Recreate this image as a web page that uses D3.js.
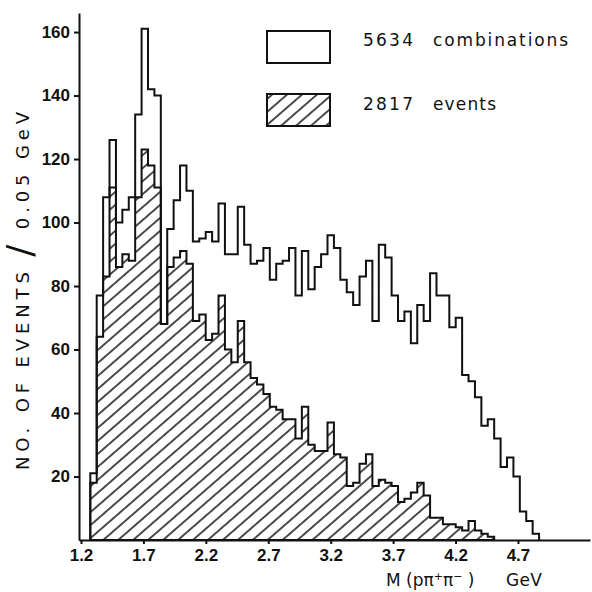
<!DOCTYPE html>
<html><head><meta charset="utf-8">
<script src="https://cdn.jsdelivr.net/npm/d3@7"></script>
<style>body{margin:0;background:#fff}svg{display:block}</style>
</head><body>
<svg id="chart" width="592" height="592"></svg>
<script>
// ---- data ----
const binStart = 1.2745;   // GeV, lower edge of the first drawn bin
const binWidth = 0.05135;  // GeV, bin width as drawn
const combinations = [21,77,108,126,100,104,108,134,161,142,140,68,98,107,118,110,94,95,97,94,
  106,90,90,105,93,87,88,92,82,87,88,92,77,91,79,86,90,96,92,82,
  78,74,83,88,69,93,89,77,69,72,62,74,69,84,77,77,67,70,52,50,
  45,36,38,32,23,26,20,9,6,2];
const events = [18,64,83,111,86,90,88,108,123,118,111,68,86,89,91,87,69,71,63,65,
  77,60,56,69,56,51,49,46,42,41,38,38,32,42,30,28,28,37,27,26,
  17,18,24,27,17,19,18,17,12,13,15,18,14,7,7,5,5,4,3,6,
  3,2,1,0,0,0,0,0,0,0];
const xTicks = [1.2,1.7,2.2,2.7,3.2,3.7,4.2,4.7];
const xTickLabels = ["1.2","1.7","2.2","2.7","3.2","3.7","4.2","4.7"];
const yTicks = [20,40,60,80,100,120,140,160];
const legendCounts = ["5634","2817"];
const legendNames = ["combinations","events"];

// ---- chart ----
const svg = d3.select("#chart");
const x = d3.scaleLinear().domain([1.184, 5.277]).range([79, 590]);
const y = d3.scaleLinear().domain([0, 166]).range([540, 13]);

const defs = svg.append("defs");
const pat = defs.append("pattern").attr("id","hatch")
  .attr("patternUnits","userSpaceOnUse").attr("width",20).attr("height",9.8)
  .attr("patternTransform","rotate(-41)");
pat.append("line").attr("x1",-2).attr("x2",22).attr("y1",4.9).attr("y2",4.9)
  .attr("stroke","#111").attr("stroke-width",1.5);

function stepPoints(vals){
  let last = vals.length-1;
  while(last>0 && vals[last]===0) last--;
  const pts=[[binStart,0]];
  for(let i=0;i<=last;i++){
    const lo=binStart+i*binWidth, hi=lo+binWidth;
    pts.push([lo,vals[i]],[hi,vals[i]]);
  }
  pts.push([binStart+(last+1)*binWidth,0]);
  return pts;
}
const line = d3.line().x(d=>x(d[0])).y(d=>y(d[1]));

// hatched histogram
svg.append("path").attr("d", line(stepPoints(events))+"Z")
  .attr("fill","url(#hatch)").attr("stroke","#111").attr("stroke-width",2)
  .attr("stroke-linejoin","miter");
// open histogram
svg.append("path").attr("d", line(stepPoints(combinations)))
  .attr("fill","none").attr("stroke","#111").attr("stroke-width",2);

// axes
const yAxis = svg.append("g").attr("transform","translate(79,0)")
  .call(d3.axisLeft(y).tickValues(yTicks).tickSize(5).tickSizeOuter(0).tickPadding(4));
yAxis.select(".domain").attr("stroke","#111").attr("stroke-width",2);
yAxis.selectAll(".tick line").attr("stroke","#111").attr("stroke-width",2);
yAxis.selectAll(".tick text").attr("font-family","Liberation Sans, Arial, sans-serif")
  .attr("font-weight","bold").attr("font-size",17).attr("fill","#111");

const xAxis = svg.append("g").attr("transform","translate(0,540)")
  .call(d3.axisBottom(x).tickValues(xTicks).tickFormat((d,i)=>xTickLabels[i]).tickSize(4).tickSizeOuter(0));
xAxis.select(".domain").attr("stroke","#111").attr("stroke-width",2);
xAxis.selectAll(".tick line").attr("stroke","#111").attr("stroke-width",2);
xAxis.selectAll(".tick text").attr("font-family","Liberation Sans, Arial, sans-serif")
  .attr("font-weight","bold").attr("font-size",17).attr("fill","#111")
  .attr("y",21).attr("dy",null);

// axis titles
const yl = svg.append("text").attr("transform","translate(29,291) rotate(-90)")
  .attr("text-anchor","middle").attr("font-family","DejaVu Sans, sans-serif")
  .attr("font-size",18).attr("fill","#111").attr("textLength",358).attr("lengthAdjust","spacing");
yl.append("tspan").text("NO. OF EVENTS ");
yl.append("tspan").attr("font-size",36).attr("dy",3).text("/");
yl.append("tspan").attr("dy",-3).text(" 0.05 GeV");

const xl = svg.append("text").attr("x",386).attr("y",586)
  .attr("font-family","DejaVu Sans, sans-serif").attr("font-size",17).attr("fill","#111");
xl.append("tspan").text("M (pπ");
xl.append("tspan").attr("font-size",11).attr("dy",-6).text("+");
xl.append("tspan").attr("dy",6).text("π");
xl.append("tspan").attr("font-size",11).attr("dy",-6).text("−");
xl.append("tspan").attr("dy",6).text(" )");
svg.append("text").attr("x",506).attr("y",586).attr("font-family","DejaVu Sans, sans-serif")
  .attr("font-size",17).attr("fill","#111").attr("textLength",36).attr("lengthAdjust","spacing").text("GeV");

// legend
const lg = svg.append("g");
const rows = [0,1];
lg.selectAll("rect").data(rows).join("rect")
  .attr("x",267).attr("y",d=>d?94:31).attr("width",63).attr("height",32)
  .attr("fill",d=>d?"url(#hatch)":"none").attr("stroke","#111").attr("stroke-width",2);
lg.selectAll("text.cnt").data(rows).join("text").attr("class","cnt")
  .attr("x",363).attr("y",d=>d?110:46).attr("font-family","DejaVu Sans, sans-serif")
  .attr("font-size",17).attr("fill","#111").attr("textLength",50).attr("lengthAdjust","spacing")
  .text(d=>legendCounts[d]);
lg.selectAll("text.nm").data(rows).join("text").attr("class","nm")
  .attr("x",433).attr("y",d=>d?110:46).attr("font-family","DejaVu Sans, sans-serif")
  .attr("font-size",17).attr("fill","#111").attr("textLength",d=>d?63:135).attr("lengthAdjust","spacing")
  .text(d=>legendNames[d]);
</script>
</body></html>
